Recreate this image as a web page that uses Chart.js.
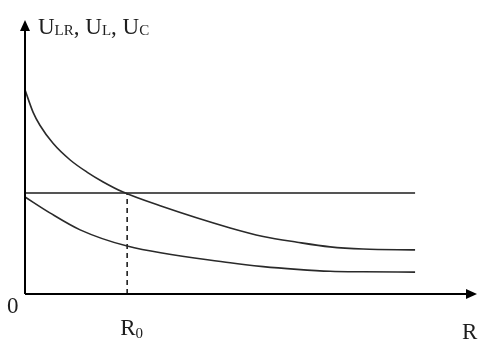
<!DOCTYPE html>
<html>
<head>
<meta charset="utf-8">
<script src="https://cdn.jsdelivr.net/npm/chart.js@4"></script>
<style>
  html, body { margin: 0; padding: 0; background: #fff; }
  #wrap { width: 494px; height: 347px; }
</style>
</head>
<body>
<div id="wrap"><canvas id="myChart"></canvas></div>
<script>
// R values (arbitrary units)
var rUpper = [0, 1.8, 3.3, 6.2, 10.0, 13.7, 17.3, 21.7, 29.9, 45.4, 52.7, 60.2, 67.5, 74.8, 86.3];
var uUpper = [74.5, 66.3, 61.6, 55.0, 48.9, 44.5, 40.9, 37.2, 32.2, 24.1, 21.0, 18.9, 17.2, 16.4, 16.1];
var rLower = [0, 5.5, 12.2, 22.6, 45.4, 52.7, 60.2, 67.5, 74.8, 86.3];
var uLower = [35.4, 29.6, 23.4, 17.5, 11.4, 10.0, 9.0, 8.3, 8.1, 8.0];
var rFlat = [0, 86.3];
var uFlat = [36.9, 36.9];
var r0 = 22.6;

function pts(xs, ys) {
  return xs.map(function (x, i) { return { x: x, y: ys[i] }; });
}

var serif = '"Liberation Serif", "DejaVu Serif", serif';

// axes with arrows and the labels
var axesPlugin = {
  id: 'axes',
  afterDatasetsDraw: function (chart) {
    var c = chart.ctx;
    var xs = chart.scales.x, ys = chart.scales.y;
    var x0 = xs.getPixelForValue(0), y0 = ys.getPixelForValue(0);
    var xEnd = xs.right, yEnd = ys.top;
    c.save();
    c.strokeStyle = '#000';
    c.fillStyle = '#000';
    c.lineWidth = 2;
    c.beginPath();
    c.moveTo(x0, y0); c.lineTo(xEnd - 6, y0);
    c.moveTo(x0, y0); c.lineTo(x0, yEnd + 6);
    c.stroke();
    // arrow heads
    c.beginPath();
    c.moveTo(xEnd, y0); c.lineTo(xEnd - 11, y0 - 5); c.lineTo(xEnd - 11, y0 + 5);
    c.closePath(); c.fill();
    c.beginPath();
    c.moveTo(x0, yEnd); c.lineTo(x0 - 5, yEnd + 11); c.lineTo(x0 + 5, yEnd + 11);
    c.closePath(); c.fill();

    // y axis label: U_LR, U_L, U_C
    c.fillStyle = '#1e1e1e';
    c.textBaseline = 'alphabetic';
    var tx = x0 + 13, ty = yEnd + 14;
    var parts = [['U', 0], ['LR', 1], [', ', 0], ['U', 0], ['L', 1], [', ', 0], ['U', 0], ['C', 1]];
    parts.forEach(function (p) {
      c.font = (p[1] ? '15px ' : '23px ') + serif;
      c.fillText(p[0], tx, ty + (p[1] ? 1 : 0));
      tx += c.measureText(p[0]).width;
    });

    // origin, R0, R
    c.font = '23px ' + serif;
    c.fillText('0', x0 - 18, y0 + 19);
    var rx = xs.getPixelForValue(r0);
    c.fillText('R', rx - 7, y0 + 41);
    var w = c.measureText('R').width;
    c.font = '15px ' + serif;
    c.fillText('0', rx - 7 + w, y0 + 44);
    c.font = '23px ' + serif;
    c.fillText('R', xEnd - 15, y0 + 45);
    c.restore();
  }
};

var ctx = document.getElementById('myChart');
new Chart(ctx, {
  type: 'scatter',
  data: {
    datasets: [{
      data: pts(rUpper, uUpper),
      showLine: true,
      borderColor: '#2a2a2a',
      borderWidth: 1.6,
      pointRadius: 0,
      cubicInterpolationMode: 'monotone'
    }, {
      data: pts(rFlat, uFlat),
      showLine: true,
      borderColor: '#555',
      borderWidth: 2,
      pointRadius: 0
    }, {
      data: pts(rLower, uLower),
      showLine: true,
      borderColor: '#2a2a2a',
      borderWidth: 1.6,
      pointRadius: 0,
      cubicInterpolationMode: 'monotone'
    }, {
      // dashed line at R0
      data: pts([r0, r0], [0, uFlat[0]]),
      showLine: true,
      borderColor: '#111',
      borderWidth: 1.5,
      borderDash: [5, 4],
      pointRadius: 0
    }]
  },
  options: {
    responsive: true,
    maintainAspectRatio: false,
    animation: false,
    layout: { padding: { left: 25, right: 17, top: 20, bottom: 53 } },
    plugins: { legend: { display: false }, tooltip: { enabled: false } },
    scales: {
      x: { type: 'linear', min: 0, max: 100, display: false },
      y: { type: 'linear', min: 0, max: 100, display: false }
    }
  },
  plugins: [axesPlugin]
});
</script>
</body>
</html>
